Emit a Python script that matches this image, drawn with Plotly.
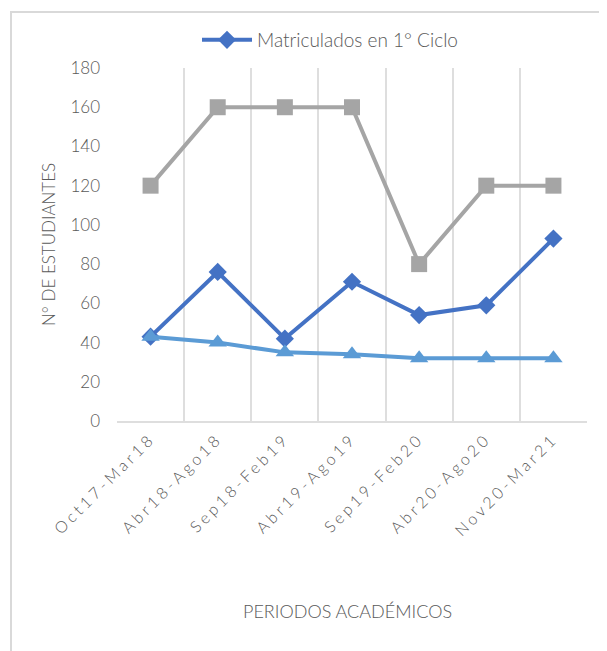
import plotly.graph_objects as go

periodos = ["Oct17-Mar18", "Abr18-Ago18", "Sep18-Feb19", "Abr19-Ago19",
            "Sep19-Feb20", "Abr20-Ago20", "Nov20-Mar21"]
matriculados = [43, 76, 42, 71, 54, 59, 93]
serie_gris = [120, 160, 160, 160, 80, 120, 120]
serie_celeste = [43, 40, 35, 34, 32, 32, 32]
y_ticks = [0, 20, 40, 60, 80, 100, 120, 140, 160, 180]

FONT = "Lato"
TXT = "#595959"
OFF = 8  # default page body margin

fig = go.Figure()
fig.add_trace(go.Scatter(
    x=periodos, y=matriculados, name="Matriculados en 1° Ciclo",
    mode="lines+markers",
    line=dict(color="#4472C4", width=4),
    marker=dict(symbol="diamond", size=14, color="#4472C4"),
))
fig.add_trace(go.Scatter(
    x=periodos, y=serie_gris, name="Serie 2", showlegend=False,
    mode="lines+markers",
    line=dict(color="#A5A5A5", width=4),
    marker=dict(symbol="square", size=16, color="#A5A5A5"),
))
fig.add_trace(go.Scatter(
    x=periodos, y=serie_celeste, name="Serie 3", showlegend=False,
    mode="lines+markers",
    line=dict(color="#5B9BD5", width=4),
    marker=dict(symbol="triangle-up", size=16, color="#5B9BD5"),
))

# target pixel positions in the window
L, R, T, B = 117, 587, 68, 421
W, H = 607 - OFF, 651 - OFF

def px_x(p):
    return (p - L) / (R - L)

def px_y(p):
    return (B - p) / (B - T)

fig.update_layout(
    width=W, height=H,
    margin=dict(l=L - OFF, r=W - (R - OFF), t=T - OFF, b=H - (B - OFF)),
    paper_bgcolor="white", plot_bgcolor="white",
    font=dict(family=FONT, color=TXT, size=15, weight=300),
    showlegend=True,
    legend=dict(
        orientation="h", x=px_x(197), xanchor="left",
        y=px_y(40), yanchor="middle", itemwidth=50,
        font=dict(family=FONT, size=19, color=TXT, weight=300),
        bgcolor="rgba(0,0,0,0)",
    ),
    xaxis=dict(
        type="category", tickson="boundaries",
        range=[-0.5, 6.5],
        showgrid=True, gridcolor="#DEDEDE", gridwidth=2,
        showline=True, linecolor="#DEDEDE", linewidth=2,
        ticks="", tickangle=-45,
        tickfont=dict(family=FONT, size=16, color=TXT, weight=300),
        zeroline=False,
    ),
    yaxis=dict(
        range=[0, 180], tickvals=y_ticks,
        showgrid=False, zeroline=False, showline=False,
        ticks="", ticklabelstandoff=16,
        tickfont=dict(family=FONT, size=17, color=TXT, weight=300),
    ),
    annotations=[
        dict(text="N° DE ESTUDIANTES", xref="paper", yref="paper",
             x=px_x(48), y=px_y(245), xanchor="center", yanchor="middle",
             textangle=-90, showarrow=False,
             font=dict(family=FONT, size=17, color=TXT, weight=300)),
        dict(text="PERIODOS ACADÉMICOS", xref="paper", yref="paper",
             x=px_x(347), y=px_y(611), xanchor="center", yanchor="middle",
             showarrow=False,
             font=dict(family=FONT, size=18, color=TXT, weight=300)),
    ],
    shapes=[
        dict(type="rect", xref="paper", yref="paper",
             x0=px_x(11), x1=px_x(640), y0=px_y(12), y1=px_y(700),
             line=dict(color="#D9D9D9", width=2), fillcolor="rgba(0,0,0,0)",
             layer="below"),
    ],
)

# Excel-style expanded character spacing on the category labels
post = ("var s=document.createElement('style');"
        "s.textContent='.xtick text{letter-spacing:3.5px;}';"
        "document.head.appendChild(s);")
fig.write_html("out.html", post_script=post)
